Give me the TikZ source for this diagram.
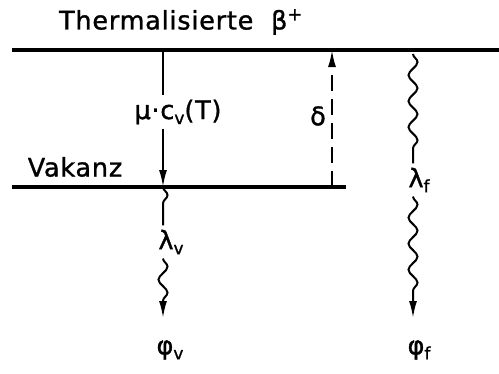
\documentclass[tikz,border=0pt]{standalone}
\usepackage{fontspec}
\setmainfont{DejaVu Sans}[LetterSpace=3,FakeBold=1.2]
\usetikzlibrary{arrows.meta,decorations.pathmorphing}
\newcommand{\idx}[1]{{\fontsize{17}{17}\selectfont\raisebox{-5pt}{#1}}}
\begin{document}
\begin{tikzpicture}[>={Latex[length=17pt,width=8pt]},x=1pt,y=-1pt,line width=2pt,
    font=\fontsize{25.5}{30}\selectfont,
    niveau/.style={line width=3.2pt},
    welle/.style={decorate,decoration={snake,segment length=26pt,amplitude=4.5pt,post length=15pt}}]
    \useasboundingbox (0,0) rectangle (499,373);
    % Niveaus
    \node (therm) at (181,22) {Thermalisierte\ \ β\textsuperscript{+}};
    \draw[niveau] (12,50) -- (499,50);
    \node (vak) at (75,167) {Vakanz};
    \draw[niveau] (12,187) -- (346,187);
    \coordinate (tv) at (163,50); \coordinate (vv) at (163,187);
    \coordinate (td) at (332,50); \coordinate (vd) at (332,187);
    \coordinate (tf) at (413,54);
    % Einfang in die Vakanz
    \node (muc) at (178,112) {μ·c\idx{v}(T)};
    \draw (tv) -- (tv |- muc.north);
    \draw[->] (tv |- muc.south) -- (vv);
    % Bindungsenergie
    \node (delta) at (318,116) {δ};
    \draw[->,dash pattern=on 16pt off 8pt] (vd) -- (td);
    % Zerstrahlung
    \node (lf) at (419,180) {λ\idx{f}};
    \node (phf) at (419,350) {φ\idx{f}};
    \draw[welle] (tf) -- (tf |- lf.north);
    \draw[welle,->] (tf |- lf.south) -- (413,318);
    \node (lv) at (171,242) {λ\idx{v}};
    \node (phv) at (170,350) {φ\idx{v}};
    \draw[welle] (vv) -- (vv |- lv.north);
    \draw[welle,->] (vv |- lv.south) -- (163,318);
\end{tikzpicture}
\end{document}
